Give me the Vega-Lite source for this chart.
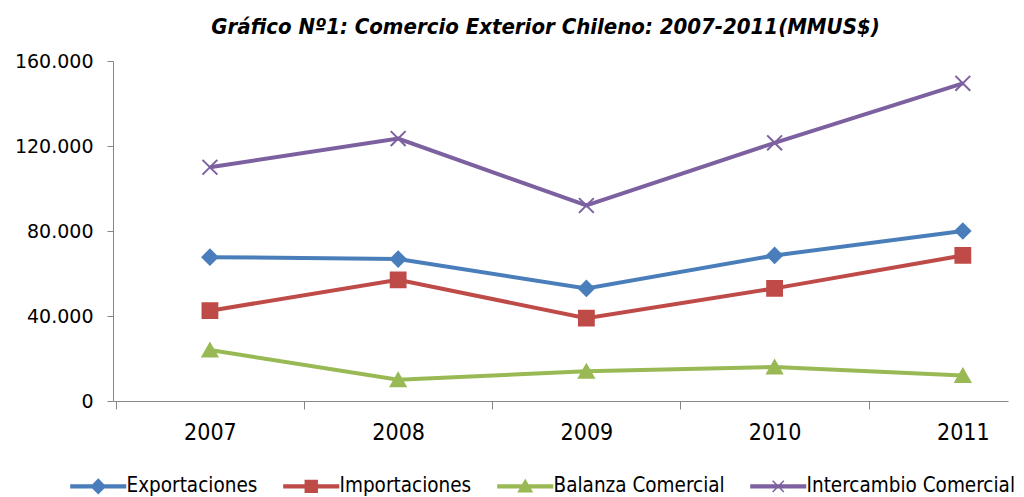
{
  "$schema": "https://vega.github.io/schema/vega-lite/v6.json",
  "width": 895,
  "height": 340,
  "autosize": {"type": "none"},
  "padding": {"left": 113, "top": 61, "right": 16, "bottom": 96},
  "background": "white",
  "title": {"text": "Gráfico Nº1: Comercio Exterior Chileno: 2007-2011(MMUS$)", "font": "DejaVu Sans Condensed, sans-serif", "fontSize": 22, "fontStyle": "italic", "fontWeight": "bold", "color": "black", "offset": 13, "dx": -15},
  "config": {"view": {"stroke": null}},
  "data": {"values": [
    {"anio": 2007, "serie": "Exportaciones", "valor": 67700},
    {"anio": 2008, "serie": "Exportaciones", "valor": 66800},
    {"anio": 2009, "serie": "Exportaciones", "valor": 53000},
    {"anio": 2010, "serie": "Exportaciones", "valor": 68500},
    {"anio": 2011, "serie": "Exportaciones", "valor": 80000},
    {"anio": 2007, "serie": "Importaciones", "valor": 42500},
    {"anio": 2008, "serie": "Importaciones", "valor": 57000},
    {"anio": 2009, "serie": "Importaciones", "valor": 39000},
    {"anio": 2010, "serie": "Importaciones", "valor": 53000},
    {"anio": 2011, "serie": "Importaciones", "valor": 68500},
    {"anio": 2007, "serie": "Balanza Comercial", "valor": 24000},
    {"anio": 2008, "serie": "Balanza Comercial", "valor": 10000},
    {"anio": 2009, "serie": "Balanza Comercial", "valor": 14000},
    {"anio": 2010, "serie": "Balanza Comercial", "valor": 16000},
    {"anio": 2011, "serie": "Balanza Comercial", "valor": 12000},
    {"anio": 2007, "serie": "Intercambio Comercial", "valor": 110000},
    {"anio": 2008, "serie": "Intercambio Comercial", "valor": 123500},
    {"anio": 2009, "serie": "Intercambio Comercial", "valor": 92000},
    {"anio": 2010, "serie": "Intercambio Comercial", "valor": 121500},
    {"anio": 2011, "serie": "Intercambio Comercial", "valor": 149500}
  ]},
  "layer": [
    {
      "mark": {"type": "line", "strokeWidth": 4},
      "encoding": {
        "x": {"field": "anio", "type": "quantitative", "scale": {"domain": [2006.485, 2011.24], "nice": false, "zero": false},
          "axis": {"orient": "bottom", "values": [2007, 2008, 2009, 2010, 2011], "format": "d", "ticks": false, "domain": false, "grid": false, "labelFont": "DejaVu Sans Condensed, sans-serif", "labelFontSize": 23, "labelPadding": 20, "labelColor": "black", "title": null}},
        "y": {"field": "valor", "type": "quantitative", "scale": {"domain": [0, 160000], "nice": false},
          "axis": {"values": [0, 40000, 80000, 120000, 160000], "labelExpr": "replace(format(datum.value, ',d'), ',', '.')", "grid": false, "title": null, "domainColor": "#868686", "tickColor": "#868686", "tickSize": 6, "labelFont": "DejaVu Sans", "labelFontSize": 19, "labelColor": "black", "labelPadding": 14}},
        "color": {"field": "serie", "type": "nominal", "scale": {"domain": ["Exportaciones", "Importaciones", "Balanza Comercial", "Intercambio Comercial"], "range": ["#4A7EBB", "#BE4B48", "#98B954", "#7D60A0"]}, "legend": null}
      }
    },
    {
      "mark": {"type": "point", "filled": true, "opacity": 1, "strokeWidth": 2},
      "encoding": {
        "x": {"field": "anio", "type": "quantitative", "scale": {"domain": [2006.485, 2011.24], "nice": false, "zero": false},
          "axis": {"orient": "bottom", "values": [2006.5, 2007.5, 2008.5, 2009.5, 2010.5], "labels": false, "ticks": true, "tickSize": 8, "tickColor": "#868686", "domainColor": "#868686", "grid": false, "title": null}},
        "y": {"field": "valor", "type": "quantitative"},
        "color": {"field": "serie", "type": "nominal", "scale": {"domain": ["Exportaciones", "Importaciones", "Balanza Comercial", "Intercambio Comercial"], "range": ["#4A7EBB", "#BE4B48", "#98B954", "#7D60A0"]}, "legend": null},
        "stroke": {"field": "serie", "type": "nominal", "scale": {"domain": ["Exportaciones", "Importaciones", "Balanza Comercial", "Intercambio Comercial"], "range": ["#4A7EBB", "#BE4B48", "#98B954", "#7D60A0"]}, "legend": null},
        "shape": {"field": "serie", "type": "nominal", "scale": {"domain": ["Exportaciones", "Importaciones", "Balanza Comercial", "Intercambio Comercial"], "range": ["diamond", "square", "triangle-up", "M-1,-1L1,1M-1,1L1,-1"]}, "legend": null},
        "size": {"value": 220}
      }
    },
    {
      "transform": [{"filter": "datum.valor < 0"}],
      "mark": {"type": "point", "filled": true, "opacity": 1, "strokeWidth": 1},
      "encoding": {
        "x": {"field": "anio", "type": "quantitative", "axis": null},
        "y": {"field": "valor", "type": "quantitative"},
        "color": {"field": "serie", "type": "nominal", "scale": {"domain": ["Exportaciones", "Importaciones", "Balanza Comercial", "Intercambio Comercial"], "range": ["#4A7EBB", "#BE4B48", "#98B954", "#7D60A0"]},
          "legend": {"title": null, "orient": "none", "legendX": -25, "legendY": 415, "direction": "horizontal", "columns": 4, "columnPadding": 22, "symbolSize": 196, "labelOffset": 18, "labelLimit": 0, "labelFont": "DejaVu Sans Condensed, sans-serif", "labelFontSize": 20.5, "labelColor": "black", "symbolStrokeWidth": 1.5}},
        "shape": {"field": "serie", "type": "nominal", "scale": {"domain": ["Exportaciones", "Importaciones", "Balanza Comercial", "Intercambio Comercial"], "range": ["M-3.9,-0.2H3.9V0.2H-3.9Z M0,-1L1,0L0,1L-1,0Z", "M-3.9,-0.2H3.9V0.2H-3.9Z M-0.85,-0.85H0.85V0.85H-0.85Z", "M-3.9,-0.2H3.9V0.2H-3.9Z M0,-0.9L0.95,0.75H-0.95Z", "M-3.9,-0.2H3.9V0.2H-3.9Z M-0.8,-0.8L0.8,0.8M-0.8,0.8L0.8,-0.8"]},
          "legend": {"title": null, "orient": "none", "legendX": -25, "legendY": 415, "direction": "horizontal", "columns": 4, "columnPadding": 22, "symbolSize": 196, "labelOffset": 18, "labelLimit": 0, "labelFont": "DejaVu Sans Condensed, sans-serif", "labelFontSize": 20.5, "labelColor": "black", "symbolStrokeWidth": 1.5}},
        "stroke": {"field": "serie", "type": "nominal", "scale": {"domain": ["Exportaciones", "Importaciones", "Balanza Comercial", "Intercambio Comercial"], "range": ["#4A7EBB", "#BE4B48", "#98B954", "#7D60A0"]}, "legend": null}
      }
    }
  ],
  "resolve": {"axis": {"x": "independent"}, "scale": {"shape": "independent", "color": "independent", "stroke": "independent"}}
}
